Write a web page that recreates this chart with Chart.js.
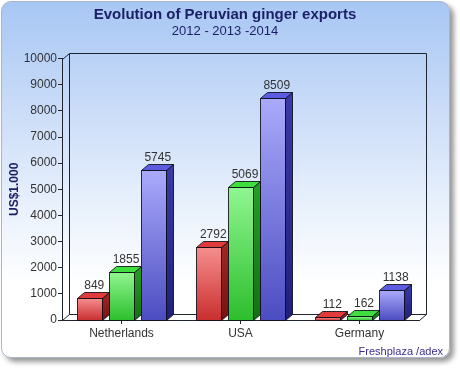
<!DOCTYPE html>
<html>
<head>
<meta charset="utf-8">
<script src="https://cdn.jsdelivr.net/npm/chart.js@4/dist/chart.umd.min.js"></script>
<style>
  html, body { margin: 0; padding: 0; background: #fff; }
  #card {
    position: absolute; left: 1px; top: 1px; width: 447px; height: 355px;
    border: 1px solid #a9b6c8; border-radius: 10px;
    background: linear-gradient(180deg, #a7c7f4 0%, #cadcf8 30%, #e9f1fc 58%, #ffffff 80%);
    box-shadow: 4px 4px 5px rgba(0, 0, 0, 0.4);
  }
  #wrap { position: absolute; left: 0; top: 0; width: 460px; height: 368px; }
</style>
</head>
<body>
<div id="card"></div>
<div id="wrap"><canvas id="chart" width="460" height="368"></canvas></div>
<script>
// Chart data
const countries = ['Netherlands', 'USA', 'Germany'];
const years = ['2012', '2013', '2014'];
const exports2012 = [849, 2792, 112];
const exports2013 = [1855, 5069, 162];
const exports2014 = [5745, 8509, 1138];
const yMin = 0;
const yMax = 10000;
const yStep = 1000;

// 3D depth of bars and walls
const DX = 7;
const DY = 6;

// Face colours per series: front gradient, top, side gradient
const faces = [
    { front: ['#f68e8e', '#c92e2e'], top: '#e03a3a', side: ['#a42626', '#761212'] },
    { front: ['#90f690', '#2cbe2c'], top: '#3ede3e', side: ['#24a024', '#137013'] },
    { front: ['#aaaafb', '#4c4cc2'], top: '#5c5ce2', side: ['#3a3aaa', '#20207a'] }
];

const FONT = '"Liberation Sans", Arial, sans-serif';
const NAVY = '#1b1f66';

function poly(ctx, pts) {
    ctx.beginPath();
    ctx.moveTo(pts[0][0], pts[0][1]);
    for (let i = 1; i < pts.length; i++) ctx.lineTo(pts[i][0], pts[i][1]);
    ctx.closePath();
}

// Draws walls, floor and 3D bars from the library's bar elements
const bar3d = {
    id: 'bar3d',
    beforeDatasetsDraw(chart) {
        const { ctx, chartArea } = chart;
        const l = Math.round(chartArea.left) + 0.5;
        const r = Math.round(chartArea.right) + 0.5;
        const t = Math.round(chartArea.top) + 0.5;
        const b = Math.round(chartArea.bottom) + 0.5;
        ctx.save();
        ctx.strokeStyle = '#1e2430';
        ctx.lineWidth = 1;
        // floor
        ctx.fillStyle = '#ffffff';
        poly(ctx, [[l, b], [l + DX, b - DY], [r + DX, b - DY], [r, b]]);
        ctx.fill();
        ctx.stroke();
        // back wall
        ctx.beginPath();
        ctx.moveTo(l + DX, b - DY);
        ctx.lineTo(l + DX, t - DY);
        ctx.lineTo(r + DX, t - DY);
        ctx.lineTo(r + DX, b - DY);
        ctx.moveTo(l, t);
        ctx.lineTo(l + DX, t - DY);
        ctx.stroke();
        ctx.restore();
    },
    afterDatasetsDraw(chart) {
        const ctx = chart.ctx;
        ctx.save();
        ctx.lineWidth = 1;
        ctx.strokeStyle = 'rgba(10,10,20,0.85)';
        chart.data.datasets.forEach((ds, i) => {
            const meta = chart.getDatasetMeta(i);
            const f = faces[i];
            meta.data.forEach((bar, j) => {
                const p = bar.getProps(['x', 'y', 'base', 'width'], true);
                const left = Math.round(p.x - p.width / 2) + 0.5;
                const right = Math.round(p.x + p.width / 2) + 0.5;
                const top = Math.round(p.y) + 0.5;
                const base = Math.round(p.base) + 0.5;

                // front face
                const gf = ctx.createLinearGradient(0, top, 0, base);
                gf.addColorStop(0, f.front[0]);
                gf.addColorStop(1, f.front[1]);
                ctx.fillStyle = gf;
                poly(ctx, [[left, top], [right, top], [right, base], [left, base]]);
                ctx.fill();
                ctx.stroke();

                // side face
                const gs = ctx.createLinearGradient(0, top - DY, 0, base);
                gs.addColorStop(0, f.side[0]);
                gs.addColorStop(1, f.side[1]);
                ctx.fillStyle = gs;
                poly(ctx, [[right, top], [right + DX, top - DY], [right + DX, base - DY], [right, base]]);
                ctx.fill();
                ctx.stroke();

                // top face
                ctx.fillStyle = f.top;
                poly(ctx, [[left, top], [left + DX, top - DY], [right + DX, top - DY], [right, top]]);
                ctx.fill();
                ctx.stroke();

                // value label
                ctx.fillStyle = '#333333';
                ctx.font = '12px ' + FONT;
                ctx.textAlign = 'center';
                ctx.textBaseline = 'bottom';
                ctx.fillText(String(ds.data[j]), p.x + DX / 2 + 1, top - DY - 1);
            });
        });
        ctx.restore();
    }
};

// Footer credit
const credit = {
    id: 'credit',
    afterDraw(chart) {
        const ctx = chart.ctx;
        ctx.save();
        ctx.fillStyle = '#3a2e8e';
        ctx.font = '11px ' + FONT;
        ctx.textAlign = 'right';
        ctx.textBaseline = 'middle';
        ctx.fillText('Freshplaza /adex', 443, 352);
        ctx.restore();
    }
};

new Chart(document.getElementById('chart'), {
    type: 'bar',
    data: {
        labels: countries,
        datasets: [
            { label: years[0], data: exports2012 },
            { label: years[1], data: exports2013 },
            { label: years[2], data: exports2014 }
        ].map(d => Object.assign(d, {
            backgroundColor: 'rgba(0,0,0,0)',
            borderWidth: 0,
            categoryPercentage: 0.8,
            barPercentage: 0.78
        }))
    },
    options: {
        responsive: false,
        animation: false,
        events: [],
        layout: { padding: { left: 0, right: 10, top: 0, bottom: 20 } },
        plugins: {
            legend: { display: false },
            tooltip: { enabled: false },
            title: {
                display: true,
                text: 'Evolution of Peruvian ginger exports',
                color: NAVY,
                font: { family: FONT, size: 15, weight: 'bold' },
                padding: { top: 6, bottom: 0 }
            },
            subtitle: {
                display: true,
                text: '2012 - 2013 -2014',
                color: NAVY,
                font: { family: FONT, size: 13 },
                padding: { top: 0, bottom: 19 }
            }
        },
        scales: {
            x: {
                grid: {
                    display: true, drawOnChartArea: false, drawTicks: true,
                    tickLength: 4, offset: false, color: '#1e2430'
                },
                border: { display: true, color: '#1e2430' },
                ticks: { color: '#333333', font: { family: FONT, size: 12 }, padding: 2 },
                afterFit(s) { s.height = 28; }
            },
            y: {
                min: yMin,
                max: yMax,
                grid: {
                    display: true, drawOnChartArea: false, drawTicks: true,
                    tickLength: 4, color: '#1e2430'
                },
                border: { display: true, color: '#1e2430' },
                ticks: {
                    stepSize: yStep, color: '#333333', font: { family: FONT, size: 12 }, padding: 1,
                    callback: v => String(v)
                },
                title: {
                    display: true,
                    text: 'US$1.000',
                    color: NAVY,
                    font: { family: FONT, size: 12, weight: 'bold' },
                    padding: { top: 7, bottom: 0 }
                },
                afterFit(s) { s.width = 62; }
            },
            yRight: {
                axis: 'y',
                type: 'linear',
                position: 'right',
                grid: { display: false },
                border: { display: false },
                ticks: { display: false },
                afterFit(s) { s.width = 31; }
            }
        }
    },
    plugins: [bar3d, credit]
});
</script>
</body>
</html>
